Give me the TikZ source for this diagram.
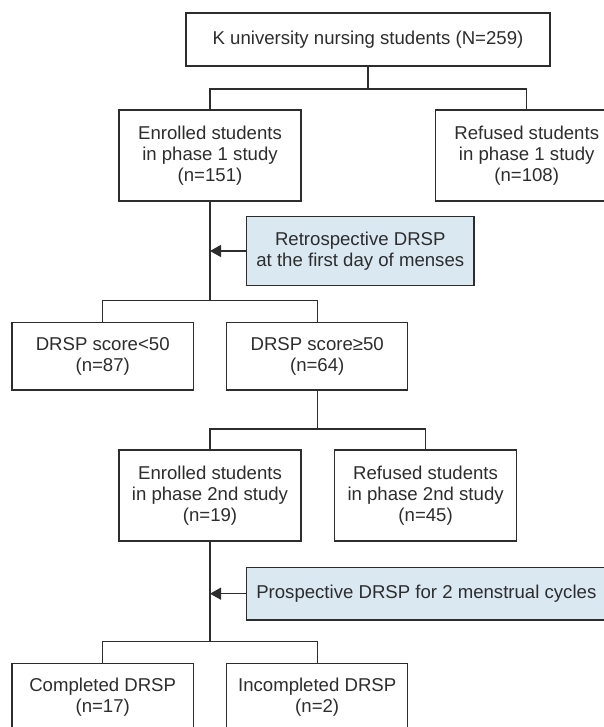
\documentclass[tikz,border=0pt]{standalone}
\usepackage{fontspec}
\setmainfont{Liberation Sans}
\usetikzlibrary{arrows.meta}
\definecolor{ink}{RGB}{45,45,45}
\definecolor{paleblue}{RGB}{217,232,241}
\tikzset{
  box/.style={draw=ink, line width=1.3pt, inner sep=0pt, align=center, text=ink,
    font=\fontsize{18.6}{20.8}\selectfont},
  note/.style={box, fill=paleblue},
  link/.style={draw=ink, line width=1.3pt},
  pointer/.style={link, -{Triangle[length=11pt,width=12pt]}}
}
\begin{document}
\begin{tikzpicture}[x=1pt,y=-1pt]
\clip (0,0) rectangle (604,727);
\fill[white] (0,0) rectangle (604,727);
\node[box, minimum width=364pt, minimum height=53pt] (top) at (368,39.5) {K university nursing students (N=259)};
\node[box, minimum width=182pt, minimum height=91pt] (e1) at (210,155.5) {Enrolled students\\in phase 1 study\\(n=151)};
\node[box, minimum width=182pt, minimum height=91pt] (r1) at (526.7,155.5) {Refused students\\in phase 1 study\\(n=108)};
\node[note, minimum width=227.3pt, minimum height=68.3pt] (retro) at (360.3,251) {Retrospective DRSP\\at the first day of menses};
\node[box, minimum width=181.3pt, minimum height=67.7pt] (d1) at (102.7,356.2) {DRSP score<50\\(n=87)};
\node[box, minimum width=181pt, minimum height=67.7pt] (d2) at (317.2,356.2) {DRSP score≥50\\(n=64)};
\node[box, minimum width=182pt, minimum height=91pt] (e2) at (210,495.5) {Enrolled students\\in phase 2nd study\\(n=19)};
\node[box, minimum width=182pt, minimum height=91pt] (r2) at (425.6,495.5) {Refused students\\in phase 2nd study\\(n=45)};
\node[note, minimum width=359.6pt, minimum height=52.7pt] (pro) at (426.3,593.7) {Prospective DRSP for 2 menstrual cycles};
\node[box, minimum width=181.3pt, minimum height=67.7pt] (c1) at (102.7,697) {Completed DRSP\\(n=17)};
\node[box, minimum width=181pt, minimum height=67.7pt] (c2) at (317.2,697) {Incompleted DRSP\\(n=2)};
\coordinate (j1) at (368,89);
\coordinate (j2) at (210,300.7);
\coordinate (j3) at (317.2,429);
\coordinate (j4) at (210,641.7);
\draw[link] (top.south) -- (j1);
\draw[link] (e1.north) |- (j1) -| (r1.north);
\draw[link] (e1.south) -- (j2);
\draw[link] (d1.north) |- (j2) -| (d2.north);
\draw[link] (d2.south) -- (j3);
\draw[link] (e2.north) |- (j3) -| (r2.north);
\draw[link] (e2.south) -- (j4);
\draw[link] (c1.north) |- (j4) -| (c2.north);
\draw[pointer] (retro.west) -- (retro.west -| e1.south);
\draw[pointer] (pro.west) -- (pro.west -| e2.south);
\end{tikzpicture}
\end{document}
